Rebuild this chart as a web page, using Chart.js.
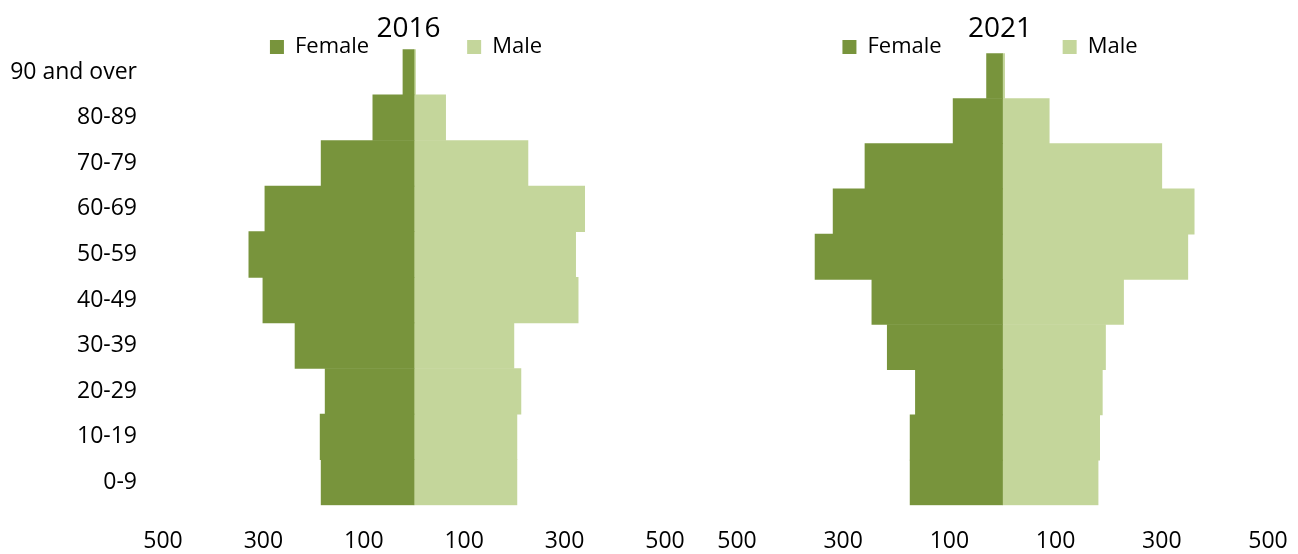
<!DOCTYPE html>
<html>
<head>
<meta charset="utf-8">
<script src="https://cdn.jsdelivr.net/npm/chart.js@4.4.1/dist/chart.umd.min.js"></script>
<style>
html,body{margin:0;padding:0;background:#ffffff;}
#wrap{position:relative;width:1298px;height:554px;overflow:hidden;background:#ffffff;}
#wrap canvas{position:absolute;left:0;top:0;}
</style>
</head>
<body>
<div id="wrap">
  <canvas id="c2016" width="1298" height="554"></canvas>
  <canvas id="c2021" width="1298" height="554"></canvas>
</div>
<script>
// ---- data (top row first) ----
const ageGroups = ['90 and over', '80-89', '70-79', '60-69', '50-59', '40-49', '30-39', '20-29', '10-19', '0-9'];
const xTickValues = [-500, -300, -100, 100, 300, 500];
const seriesNames = ['Female', 'Male'];
const female2016 = [22, 82, 185, 297, 329, 301, 237, 177, 187, 185];
const male2016   = [3, 63, 227, 340, 322, 327, 199, 213, 205, 205];
const female2021 = [30, 93, 259, 319, 353, 246, 217, 164, 174, 174];
const male2021   = [4, 88, 300, 361, 349, 228, 194, 188, 183, 180];

// ---- styles ----
const FEMALE_COLOR = '#78943C';
const MALE_COLOR = '#C4D69B';
const TEXT_COLOR = '#000000';
const TITLE_SIZE = 28, TITLE_LH = 1.2;
Chart.defaults.font.family = "'Open Sans', 'Liberation Sans', sans-serif";
Chart.defaults.color = TEXT_COLOR;

// Places the title and the legend (Excel-style: title sits between the two legend items)
const boxPlacer = {
  id: 'boxPlacer',
  afterLayout(chart, args, o) {
    const lg = chart.legend;
    if (lg) {
      const p = lg.options.labels.padding;
      lg.left = o.legendCenter - 400; lg.right = o.legendCenter + 400; lg.width = 800;
      lg.top = o.legendItemY - p; lg.height = 300; lg.bottom = lg.top + 300;
    }
    const tt = chart.titleBlock;
    if (tt) {
      const lh = TITLE_SIZE * TITLE_LH;
      tt.left = o.titleCenter - 100; tt.right = o.titleCenter + 100; tt.width = 200;
      tt.top = o.titleMiddle - lh / 2; tt.height = lh; tt.bottom = tt.top + lh;
    }
  }
};

function makePyramid(canvasId, titleText, female, male, lay) {
  return new Chart(document.getElementById(canvasId), {
    type: 'bar',
    plugins: [boxPlacer],
    data: {
      labels: ageGroups,
      datasets: [
        { label: seriesNames[0], data: female.map(v => -v), backgroundColor: FEMALE_COLOR, borderWidth: 0,
          barPercentage: 1.0, categoryPercentage: 1.0 },
        { label: seriesNames[1], data: male, backgroundColor: MALE_COLOR, borderWidth: 0,
          barPercentage: 1.0, categoryPercentage: 1.0 }
      ]
    },
    options: {
      indexAxis: 'y',
      responsive: false,
      animation: false,
      layout: { padding: { left: 0, right: lay.padR, top: lay.padT, bottom: 0 } },
      plugins: {
        tooltip: { enabled: false },
        boxPlacer: { legendCenter: lay.legendCenter, legendItemY: 36, titleCenter: lay.titleCenter, titleMiddle: 28.7 },
        title: {
          display: true, text: titleText, color: TEXT_COLOR,
          font: { size: TITLE_SIZE, weight: 'normal', lineHeight: TITLE_LH },
          padding: { top: 0, bottom: 0 }
        },
        legend: {
          display: true, position: 'top', maxHeight: 10,
          labels: { boxWidth: 14, boxHeight: 14, padding: lay.legendGap, color: TEXT_COLOR,
                    font: { size: 22 } }
        }
      },
      scales: {
        x: {
          stacked: true, min: -500, max: 500,
          grid: { display: false, drawTicks: true, tickLength: 24.9 }, border: { display: false },
          afterBuildTicks: (scale) => { scale.ticks = xTickValues.map(v => ({ value: v })); },
          afterFit: (scale) => { scale.height = 48.7; },
          ticks: { padding: 0, color: TEXT_COLOR, font: { size: 23, lineHeight: 1 },
                   autoSkip: false, maxRotation: 0,
                   callback: (v) => Math.abs(v) }
        },
        y: {
          stacked: true,
          grid: { display: false, drawTicks: false }, border: { display: false },
          afterFit: (scale) => { scale.width = lay.yAxisW; },
          ticks: { display: lay.showY, padding: 26, color: TEXT_COLOR, font: { size: 23 }, autoSkip: false }
        }
      }
    }
  });
}

// chart area: 2016 -> x 163..665, y 49.3..505.3 ; 2021 -> x 737..1268, y 53.3..505.3
makePyramid('c2016', '2016', female2016, male2016,
  { padR: 633, padT: 5.7, yAxisW: 163, showY: true,
    legendGap: 98, legendCenter: 406, titleCenter: 408.5 });
makePyramid('c2021', '2021', female2021, male2021,
  { padR: 30, padT: 9.7, yAxisW: 737, showY: false,
    legendGap: 121, legendCenter: 990, titleCenter: 1000 });
</script>
</body>
</html>
